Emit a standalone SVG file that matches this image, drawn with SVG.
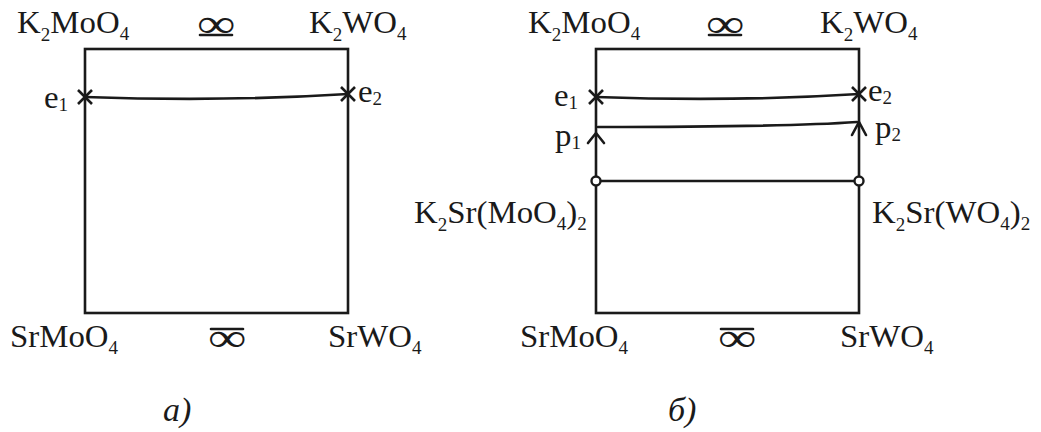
<svg xmlns="http://www.w3.org/2000/svg" width="1041" height="432" viewBox="0 0 1041 432">
<style>
.t{font-family:"Liberation Serif","Times New Roman",serif;font-size:31px;fill:#1a1a1a}
.s{font-size:18px}
.inf{font-family:"Liberation Serif","Times New Roman",serif;font-size:40px;fill:#1a1a1a}
.cap{font-family:"Liberation Serif","Times New Roman",serif;font-size:34px;font-style:italic;fill:#1a1a1a}
.box{fill:none;stroke:#1a1a1a;stroke-width:2.6}
.ln{fill:none;stroke:#1a1a1a;stroke-width:2.6;stroke-linecap:round}
.x{fill:none;stroke:#1a1a1a;stroke-width:2.6}
.pt{fill:#fff;stroke:#1a1a1a;stroke-width:2.4}
</style>
<rect width="1041" height="432" fill="#fff"/>
<g id="panel-a">
  <g id="a-K2MoO4"><text class="t" transform="translate(17,33) scale(1.06,1)">K<tspan class="s" dy="8">2</tspan><tspan dy="-8">MoO</tspan><tspan class="s" dy="7">4</tspan></text></g>
  <g id="a-K2WO4"><text class="t" transform="translate(309,33) scale(1.06,1)">K<tspan class="s" dy="8">2</tspan><tspan dy="-8">WO</tspan><tspan class="s" dy="7">4</tspan></text></g>
  <g id="a-SrMoO4"><text class="t" transform="translate(10,347) scale(1.06,1)">SrMoO<tspan class="s" dy="7">4</tspan></text></g>
  <g id="a-SrWO4"><text class="t" transform="translate(328,347) scale(1.06,1)">SrWO<tspan class="s" dy="7">4</tspan></text></g>
  <g id="a-inf-top"><text class="inf" transform="translate(197,37) scale(1.35,1)">∞</text><line class="ln" x1="200" y1="35" x2="232" y2="35" stroke-linecap="butt"/></g>
  <g id="a-inf-bot"><text class="inf" transform="translate(208,351) scale(1.35,1)">∞</text><line class="ln" x1="211" y1="329" x2="243" y2="329" stroke-linecap="butt"/></g>
  <g id="a-e1"><path class="x" d="M78,90 L92,104 M92,90 L78,104"/><text class="t" transform="translate(44,108) scale(1.06,1)">e<tspan class="s" dy="3">1</tspan></text></g>
  <g id="a-e2"><path class="x" d="M341,87 L355,101 M355,87 L341,101"/><text class="t" transform="translate(358,102) scale(1.06,1)">e<tspan class="s" dy="3">2</tspan></text></g>
  <g id="a-caption"><text class="cap" transform="translate(163,421)">а)</text></g>
</g>
<g id="panel-b">
  <g id="b-K2MoO4"><text class="t" transform="translate(528,33) scale(1.06,1)">K<tspan class="s" dy="8">2</tspan><tspan dy="-8">MoO</tspan><tspan class="s" dy="7">4</tspan></text></g>
  <g id="b-K2WO4"><text class="t" transform="translate(820,33) scale(1.06,1)">K<tspan class="s" dy="8">2</tspan><tspan dy="-8">WO</tspan><tspan class="s" dy="7">4</tspan></text></g>
  <g id="b-SrMoO4"><text class="t" transform="translate(520,347) scale(1.06,1)">SrMoO<tspan class="s" dy="7">4</tspan></text></g>
  <g id="b-SrWO4"><text class="t" transform="translate(840,347) scale(1.06,1)">SrWO<tspan class="s" dy="7">4</tspan></text></g>
  <g id="b-inf-top"><text class="inf" transform="translate(706,37) scale(1.35,1)">∞</text><line class="ln" x1="709" y1="35" x2="741" y2="35" stroke-linecap="butt"/></g>
  <g id="b-inf-bot"><text class="inf" transform="translate(718,351) scale(1.35,1)">∞</text><line class="ln" x1="721" y1="329" x2="753" y2="329" stroke-linecap="butt"/></g>
  <g id="b-e1"><path class="x" d="M589,90 L603,104 M603,90 L589,104"/><text class="t" transform="translate(554,106) scale(1.06,1)">e<tspan class="s" dy="3">1</tspan></text></g>
  <g id="b-e2"><path class="x" d="M852,87 L866,101 M866,87 L852,101"/><text class="t" transform="translate(868,101) scale(1.06,1)">e<tspan class="s" dy="3">2</tspan></text></g>
  <g id="b-p1"><path class="ln" d="M588,143 L596,133 L604,143"/><text class="t" transform="translate(555,146) scale(1.06,1)">p<tspan class="s" dy="3">1</tspan></text></g>
  <g id="b-p2"><path class="ln" d="M852,135 L859,122 L866,135"/><text class="t" transform="translate(875,138) scale(1.06,1)">p<tspan class="s" dy="3">2</tspan></text></g>
  <g id="b-K2SrMoO42"><text class="t" transform="translate(414,223) scale(1.06,1)">K<tspan class="s" dy="8">2</tspan><tspan dy="-8">Sr(MoO</tspan><tspan class="s" dy="7">4</tspan><tspan dy="-7">)</tspan><tspan class="s" dy="7">2</tspan></text></g>
  <g id="b-K2SrWO42"><text class="t" transform="translate(872,223) scale(1.06,1)">K<tspan class="s" dy="8">2</tspan><tspan dy="-8">Sr(WO</tspan><tspan class="s" dy="7">4</tspan><tspan dy="-7">)</tspan><tspan class="s" dy="7">2</tspan></text></g>
  <g id="b-caption"><text class="cap" transform="translate(668,421)">б)</text></g>
</g>
<g id="connectors">
  <rect class="box" x="85" y="49" width="263" height="264"/>
  <rect class="box" x="596" y="49" width="263" height="264"/>
  <path class="ln" d="M85,97 C170,100 270,99 348,94"/>
  <path class="ln" d="M596,97 C681,100 781,99 859,94"/>
  <path class="ln" d="M598,127 C700,127 800,126 857,122"/>
  <line class="ln" x1="600" y1="181" x2="855" y2="181"/>
  <circle class="pt" cx="596" cy="181" r="4.5"/>
  <circle class="pt" cx="859" cy="181" r="4.5"/>
</g>
</svg>
